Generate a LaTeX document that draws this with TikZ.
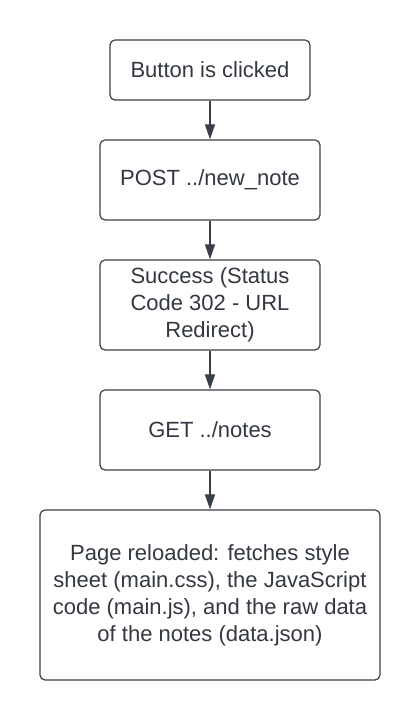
\documentclass[tikz,border=0pt]{standalone}
\usepackage{fontspec}
\setmainfont{Liberation Sans}
\usetikzlibrary{arrows.meta}
\definecolor{ink}{HTML}{333840}
\definecolor{edge}{HTML}{3A3F47}
\begin{document}
\begin{tikzpicture}[x=1pt,y=1pt,
  box/.style={draw=edge, line width=1.2pt, rounded corners=5pt, inner sep=0pt,
    align=center, text=ink, font=\fontsize{22}{27}\selectfont},
  link/.style={draw=edge, line width=1.2pt, -{Triangle[length=15pt,width=10pt]}}]
\useasboundingbox (0,0) rectangle (420,720);
\node[box, minimum width=200pt, minimum height=60pt] (a) at (210,650) {Button is clicked};
\node[box, minimum width=220pt, minimum height=80pt] (b) at (210,540) {POST ../new\_note};
\node[box, minimum width=220pt, minimum height=90pt] (c) at (210,415) {Success (Status\\Code 302 - URL\\Redirect)};
\node[box, minimum width=220pt, minimum height=80pt] (d) at (210,290) {GET ../notes};
\node[box, minimum width=340pt, minimum height=170pt] (e) at (210,125) {Page reloaded: fetches style\\sheet (main.css), the JavaScript\\code (main.js), and the raw data\\of the notes (data.json)};
\draw[link] (a) -- (b);
\draw[link] (b) -- (c);
\draw[link] (c) -- (d);
\draw[link] (d) -- (e);
\end{tikzpicture}
\end{document}
